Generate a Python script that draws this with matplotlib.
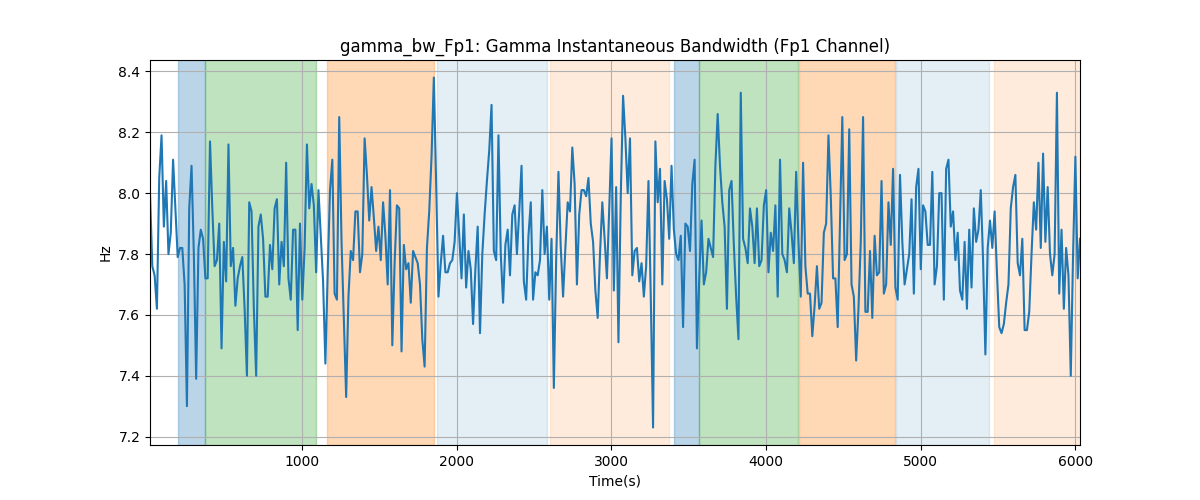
import numpy as np
import matplotlib
matplotlib.use("Agg")
import matplotlib.pyplot as plt

# ДАННЫЕ
t_start = 17.0
t_step = 14.92

bw = [
    # 0 .. ~750 s
    8.00, 7.76, 7.73, 7.62, 8.05, 8.19, 7.89, 8.04, 7.80, 7.87, 8.11, 7.95, 7.79, 7.82, 7.82, 7.70,
    7.30, 7.95, 8.09, 7.80, 7.39, 7.82, 7.88, 7.85, 7.72, 7.72, 8.17, 7.95, 7.76, 7.78, 7.90, 7.49,
    7.84, 7.71, 8.16, 7.76, 7.82, 7.63, 7.72, 7.76, 7.79, 7.62, 7.40, 7.97, 7.94, 7.62, 7.40, 7.89,
    7.93, 7.85, 7.66,
    # ~750 .. ~1520 s
    7.66, 7.83, 7.75, 7.95, 7.98, 7.70, 7.84, 7.76, 8.10, 7.72, 7.65, 7.88, 7.88, 7.55, 7.90, 7.65,
    7.82, 8.16, 7.95, 8.03, 7.96, 7.74, 8.01, 7.86, 7.71, 7.44, 7.74, 8.01, 8.11, 7.67, 7.65, 8.25,
    7.84, 7.58, 7.33, 7.66, 7.81, 7.78, 7.94, 7.94, 7.74, 7.80, 8.18, 8.06, 7.91, 8.02, 7.92, 7.81,
    7.89, 7.78, 7.97,
    # ~1520 .. ~2270 s
    7.86, 7.70, 8.01, 7.50, 7.77, 7.96, 7.95, 7.48, 7.83, 7.75, 7.77, 7.64, 7.81, 7.79, 7.77, 7.70,
    7.52, 7.43, 7.82, 7.94, 8.12, 8.38, 8.03, 7.66, 7.77, 7.86, 7.74, 7.74, 7.77, 7.78, 7.84, 8.00,
    7.86, 7.72, 7.93, 7.69, 7.81, 7.75, 7.57, 7.75, 7.89, 7.54, 7.80, 7.93, 8.04, 8.14, 8.29, 7.81,
    7.78, 8.19,
    # ~2270 .. ~3020 s
    7.80, 7.64, 7.83, 7.88, 7.73, 7.93, 7.96, 7.80, 7.94, 8.09, 7.71, 7.65, 7.86, 7.97, 7.65, 7.74,
    7.73, 7.78, 8.01, 7.80, 7.89, 7.65, 7.85, 7.36, 7.78, 8.07, 7.82, 7.66, 7.82, 7.97, 7.94, 8.15,
    8.03, 7.70, 7.93, 8.01, 8.01, 7.99, 8.05, 7.90, 7.84, 7.68, 7.59, 7.80, 7.97, 7.85, 7.72, 7.95,
    8.18, 7.68,
    # ~3020 .. ~3770 s
    8.02, 7.51, 7.99, 8.32, 8.18, 8.00, 8.18, 7.73, 7.81, 7.82, 7.71, 7.77, 7.66, 7.76, 8.04, 7.66,
    7.23, 8.17, 7.97, 8.08, 7.70, 8.04, 7.98, 7.85, 8.09, 7.88, 7.80, 7.78, 7.86, 7.56, 7.90, 7.89,
    7.81, 8.03, 8.11, 7.49, 7.72, 7.91, 7.70, 7.74, 7.85, 7.82, 7.79, 8.09, 8.26, 8.09, 7.97, 7.89,
    7.62, 8.01,
    # ~3770 .. ~4520 s
    8.04, 7.83, 7.66, 7.52, 8.33, 7.85, 7.82, 7.77, 7.95, 7.89, 7.77, 7.95, 7.76, 7.78, 7.96, 8.01,
    7.74, 7.87, 7.81, 7.96, 7.66, 8.11, 7.80, 7.78, 7.74, 7.95, 7.87, 7.77, 8.07, 7.84, 7.66, 8.10,
    7.76, 7.67, 7.67, 7.53, 7.63, 7.76, 7.62, 7.64, 7.87, 7.90, 8.19, 7.99, 7.72, 7.72, 7.56, 7.90,
    8.25, 7.78,
    # ~4520 .. ~5270 s
    7.80, 8.21, 7.70, 7.66, 7.45, 7.62, 7.84, 8.25, 7.61, 7.61, 7.81, 7.59, 7.86, 7.73, 7.74, 8.04,
    7.67, 7.70, 7.97, 7.83, 8.08, 7.69, 7.65, 8.06, 7.84, 7.70, 7.75, 7.80, 7.98, 7.67, 8.02, 8.08,
    7.75, 7.96, 7.94, 7.83, 7.83, 8.07, 7.70, 7.76, 8.00, 8.00, 7.65, 8.08, 8.11, 7.89, 7.94, 7.78,
    7.87, 7.68,
    # ~5270 .. конец
    7.65, 7.84, 7.62, 7.88, 7.69, 7.95, 7.84, 7.88, 8.01, 7.78, 7.47, 7.82, 7.91, 7.82, 7.94, 7.74,
    7.56, 7.54, 7.57, 7.64, 7.70, 7.95, 8.02, 8.06, 7.77, 7.73, 7.85, 7.55, 7.55, 7.61, 7.80, 7.97,
    7.88, 8.10, 7.82, 8.13, 7.84, 8.02, 7.80, 7.73, 7.80, 8.33, 7.67, 7.88, 7.62, 7.82, 7.73, 7.40,
    7.80, 8.12, 7.72, 7.85,
]

t = t_start + np.arange(len(bw)) * t_step

# ИНТЕРВАЛЫ (начало, конец, цвет, прозрачность)
span_starts = [195, 370, 1159, 1871, 2600, 3404, 3565, 4210, 4838, 5471]
span_ends = [370, 1090, 1854, 2585, 3371, 3565, 4204, 4831, 5439, 6040]
span_colors = ['tab:blue', 'tab:green', 'tab:orange', 'tab:blue', 'tab:orange',
               'tab:blue', 'tab:green', 'tab:orange', 'tab:blue', 'tab:orange']
span_alphas = [0.3, 0.3, 0.3, 0.12, 0.15, 0.3, 0.3, 0.3, 0.12, 0.15]

# ГРАФИК
fig, ax = plt.subplots(figsize=(12, 5))

for a, b, c, al in zip(span_starts, span_ends, span_colors, span_alphas):
    ax.axvspan(a, b, color=c, alpha=al)

ax.plot(t, bw, color='tab:blue', linewidth=1.5)

ax.set_xlim(t[0], t[-1])
ax.set_title('gamma_bw_Fp1: Gamma Instantaneous Bandwidth (Fp1 Channel)')
ax.set_xlabel('Time(s)')
ax.set_ylabel('Hz')
ax.grid(True)

fig.savefig('out.png', dpi=100)
